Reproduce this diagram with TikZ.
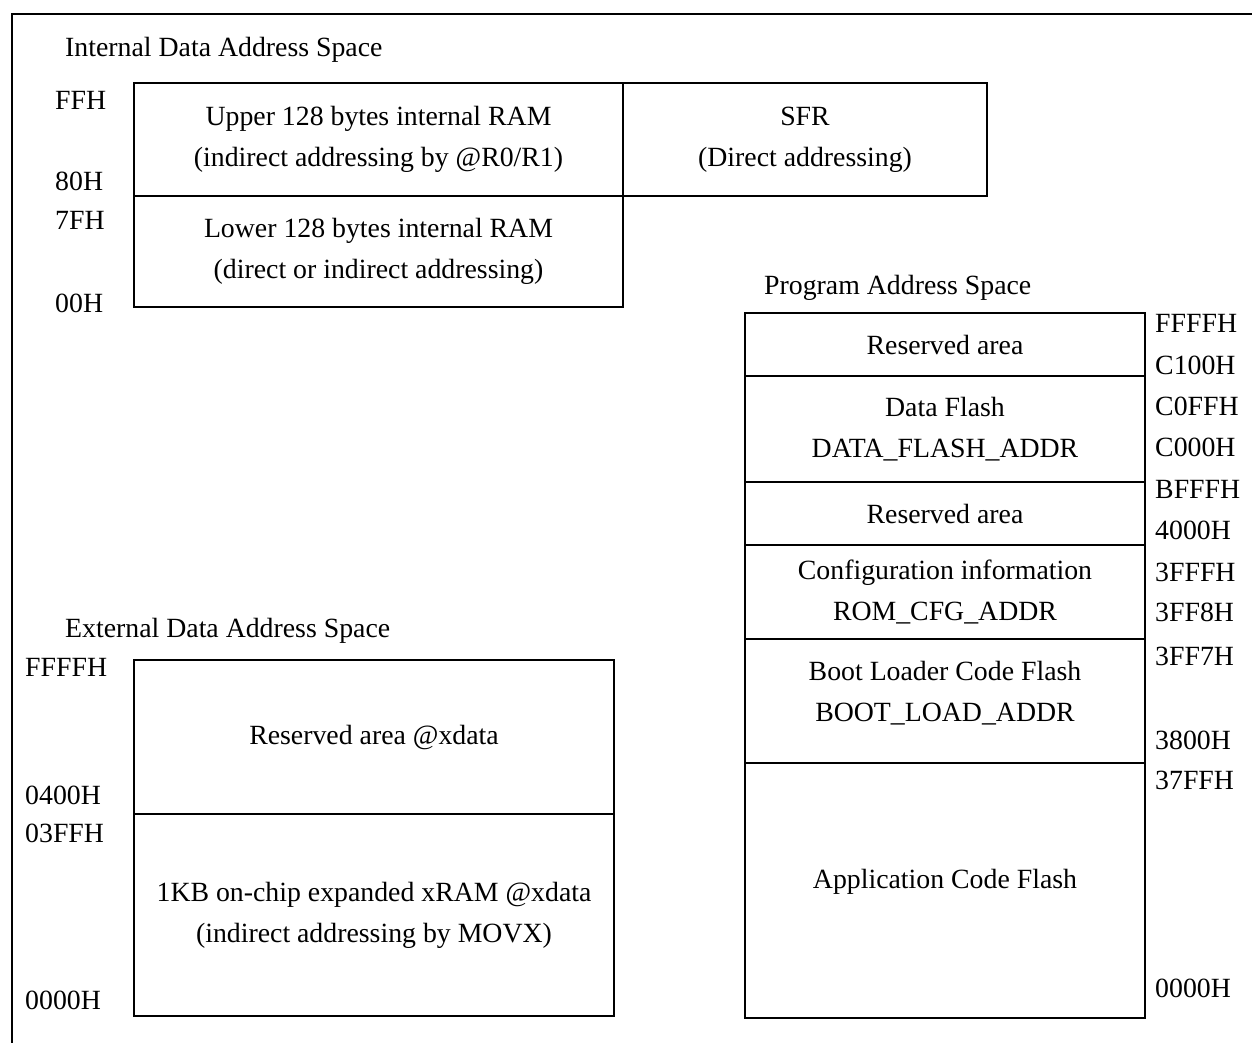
\documentclass[tikz,border=0pt]{standalone}
\usepackage{fontspec}
\setmainfont{Liberation Serif}
\usetikzlibrary{positioning}
\begin{document}
\begin{tikzpicture}[x=1pt,y=-1pt]
\tikzset{blk/.style={draw, line width=1.8pt, inner sep=0pt, outer sep=0pt, align=center, font=\fontsize{27.8}{41}\selectfont},
  addr/.style={anchor=west, inner sep=0pt, font=\fontsize{27.8}{33}\selectfont},
  titre/.style={anchor=west, inner sep=0pt, font=\fontsize{27.8}{33}\selectfont}}
\useasboundingbox (0,0) rectangle (1252,1042);
\clip (0,0) rectangle (1252,1042);
\draw[line width=2.8pt] (12,1070) -- (12,14) -- (1280,14);
% internal data space
\node[titre] (TI) at (65,50) {Internal Data Address Space};
\node[blk, minimum width=489, minimum height=113, anchor=north west] (UP) at (134,83) {Upper 128 bytes internal RAM\\(indirect addressing by @R0/R1)};
\node[blk, minimum width=364, minimum height=113, right=0pt of UP] (SFR) {SFR\\(Direct addressing)};
\node[blk, minimum width=489, minimum height=111, below=0pt of UP] (LO) {Lower 128 bytes internal RAM\\(direct or indirect addressing)};
\node[addr] (a1) at (55,100) {FFH};
\node[addr] (a2) at (55,181) {80H};
\node[addr] (a3) at (55,220) {7FH};
\node[addr] (a4) at (55,303) {00H};
% program space
\node[titre] (TP) at (764,288) {Program Address Space};
\node[blk, minimum width=400, minimum height=63, anchor=north west] (P1) at (745,313) {Reserved area};
\node[blk, minimum width=400, minimum height=106, below=0pt of P1] (P2) {Data Flash\\DATA\_FLASH\_ADDR};
\node[blk, minimum width=400, minimum height=63, below=0pt of P2] (P3) {Reserved area};
\node[blk, minimum width=400, minimum height=94, below=0pt of P3] (P4) {Configuration information\\ROM\_CFG\_ADDR};
\node[blk, minimum width=400, minimum height=124, text depth=19pt, below=0pt of P4] (P5) {Boot Loader Code Flash\\BOOT\_LOAD\_ADDR};
\node[blk, minimum width=400, minimum height=255, text depth=24pt, below=0pt of P5] (P6) {Application Code Flash};
\node[addr] (b1) at (1155,323) {FFFFH};
\node[addr] (b2) at (1155,365) {C100H};
\node[addr] (b3) at (1155,406) {C0FFH};
\node[addr] (b4) at (1155,447) {C000H};
\node[addr] (b5) at (1155,489) {BFFFH};
\node[addr] (b6) at (1155,530) {4000H};
\node[addr] (b7) at (1155,572) {3FFFH};
\node[addr] (b8) at (1155,612) {3FF8H};
\node[addr] (b9) at (1155,656) {3FF7H};
\node[addr] (b10) at (1155,740) {3800H};
\node[addr] (b11) at (1155,780) {37FFH};
\node[addr] (b12) at (1155,988) {0000H};
% external data space
\node[titre] (TE) at (65,631) {External Data Address Space};
\node[blk, minimum width=480, minimum height=154, anchor=north west] (X1) at (134,660) {Reserved area @xdata};
\node[blk, minimum width=480, minimum height=202, below=0pt of X1] (X2) {1KB on-chip expanded xRAM @xdata\\(indirect addressing by MOVX)};
\node[addr] (c1) at (25,667) {FFFFH};
\node[addr] (c2) at (25,795) {0400H};
\node[addr] (c3) at (25,833) {03FFH};
\node[addr] (c4) at (25,1000) {0000H};
\end{tikzpicture}
\end{document}
